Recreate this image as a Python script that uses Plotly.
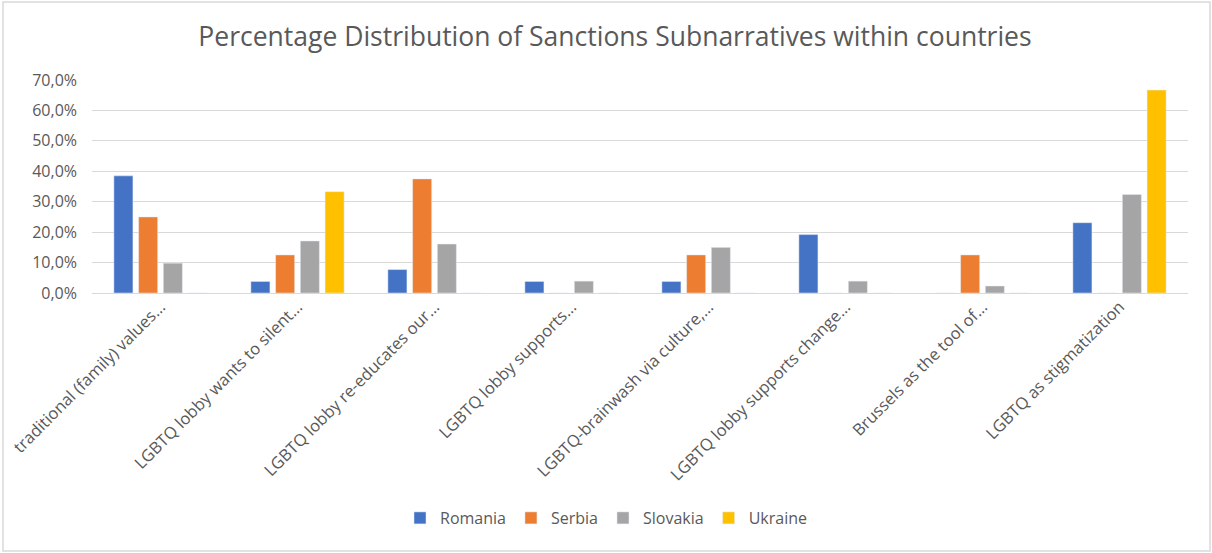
import plotly.graph_objects as go

categories = [
    "traditional (family) values...",
    "LGBTQ lobby wants to silent...",
    "LGBTQ lobby re-educates our...",
    "LGBTQ lobby supports...",
    "LGBTQ-brainwash via culture,...",
    "LGBTQ lobby supports change...",
    "Brussels as the tool of...",
    "LGBTQ as stigmatization",
]
romania = [38.5, 3.8, 7.7, 3.8, 3.8, 19.2, 0.0, 23.1]
serbia = [25.0, 12.5, 37.5, 0.0, 12.5, 0.0, 12.5, 0.0]
slovakia = [9.8, 17.1, 16.1, 3.9, 15.0, 3.9, 2.3, 32.4]
ukraine = [0.0, 33.3, 0.0, 0.0, 0.0, 0.0, 0.0, 66.7]

series = [
    ("Romania", romania, "#4472C4"),
    ("Serbia", serbia, "#ED7D31"),
    ("Slovakia", slovakia, "#A5A5A5"),
    ("Ukraine", ukraine, "#FFC000"),
]

W, H = 1212, 553
ML, MR, MT, MB = 92, 24, 80, 260
pw, ph = W - ML - MR, H - MT - MB

fig = go.Figure()
for name, vals, color in series:
    fig.add_trace(go.Bar(x=categories, y=vals, name=name, marker_color=color))

FONT = "Open Sans"
GRAY = "#595959"

def px_x(p):
    return (p - ML) / pw

def px_y(p):
    return (H - MB - p) / ph

fig.update_layout(
    width=W, height=H,
    margin=dict(l=ML, r=MR, t=MT, b=MB, autoexpand=False),
    paper_bgcolor="white", plot_bgcolor="white",
    separators=",.",
    barmode="group", bargap=0.278, bargroupgap=0.23,
    font=dict(family=FONT, color=GRAY, size=13),
    title=dict(text="Percentage Distribution of Sanctions Subnarratives within countries",
               x=615 / W, xref="container", xanchor="center", y=1 - 37 / H, yanchor="middle",
               font=dict(family=FONT, size=26.5, color=GRAY)),
    xaxis=dict(tickangle=-45, showgrid=False, showline=False, ticks="",
               tickfont=dict(size=16.5, color=GRAY)),
    yaxis=dict(range=[0, 70], dtick=10, tickformat=".1f", ticksuffix="%",
               showgrid=True, gridcolor="#D9D9D9", gridwidth=1,
               zeroline=True, zerolinecolor="#D9D9D9", zerolinewidth=1,
               showline=False, ticks="", ticklabelstandoff=14,
               tickfont=dict(size=16, color=GRAY)),
    legend=dict(orientation="h", xref="paper", x=px_x(606), xanchor="center",
                y=px_y(518), yanchor="middle",
                font=dict(size=16, color=GRAY), itemwidth=30, traceorder="normal"),
    showlegend=True,
    shapes=[dict(type="rect", xref="paper", yref="paper",
                 x0=px_x(3), x1=px_x(1210), y0=px_y(551), y1=px_y(2),
                 line=dict(color="#D9D9D9", width=1.5), layer="below")],
)

fig.write_html("out.html", config={"displayModeBar": False},
               post_script="document.body.style.margin='0';document.body.style.padding='0';document.body.style.overflow='hidden';")
